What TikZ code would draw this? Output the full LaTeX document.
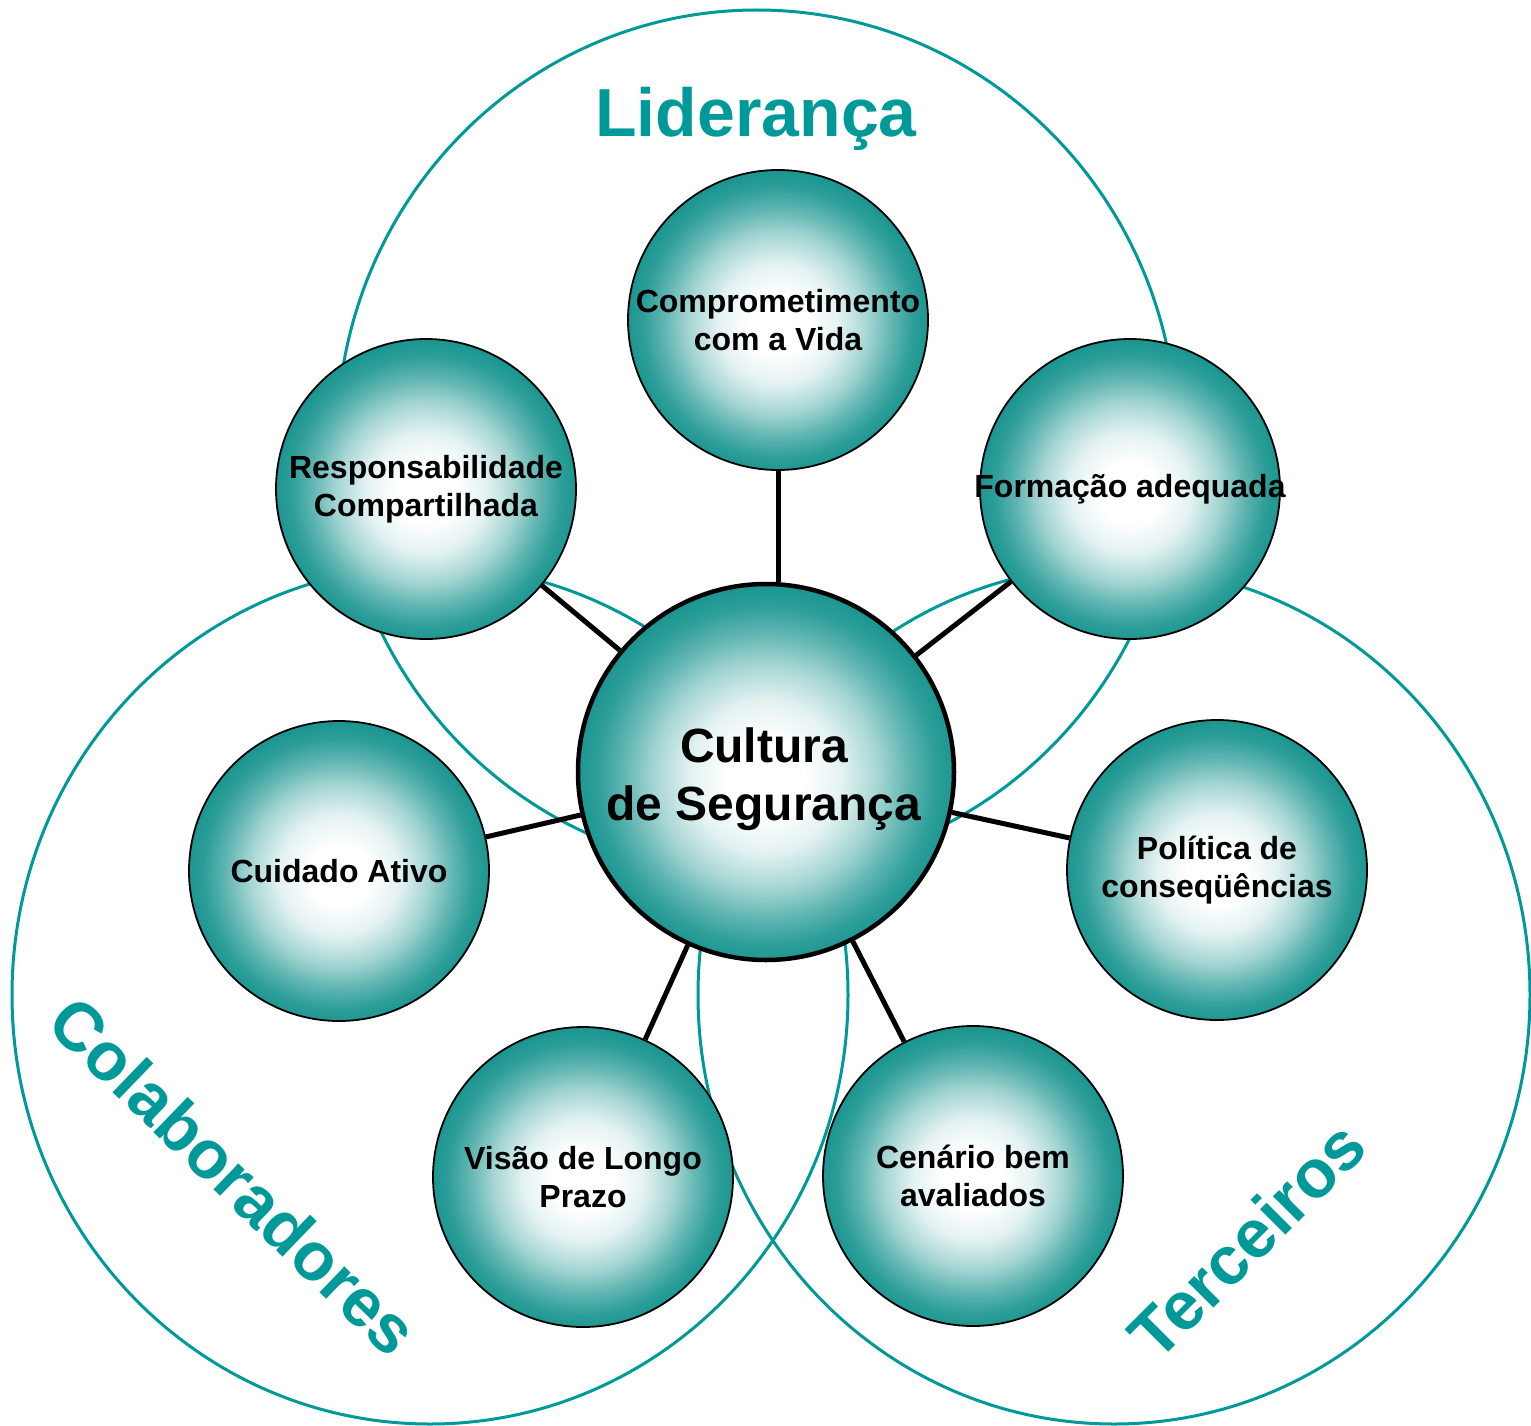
\documentclass[tikz,border=0pt]{standalone}
\usepackage{fontspec}
\setmainfont{Liberation Sans}
\definecolor{tealline}{RGB}{0,153,153}
\definecolor{shteal}{RGB}{28,150,145}
\pgfdeclareradialshading{tealball}{\pgfpoint{0bp}{-0.8bp}}{%
  color(0bp)=(white); color(5bp)=(white); color(10bp)=(shteal!12!white);
  color(15bp)=(shteal!40!white); color(19bp)=(shteal!70!white);
  color(22.5bp)=(shteal!92!white); color(25bp)=(shteal); color(50bp)=(shteal)}
\tikzset{
  venn/.style={draw=tealline, line width=3pt},
  ball/.style={circle, shade, shading=tealball, draw=black, line width=1.8pt,
    minimum size=300pt, inner sep=0pt},
  core/.style={circle, shade, shading=tealball, draw=black, line width=4.5pt,
    minimum size=376pt, inner sep=0pt},
  conn/.style={draw=black, line width=5pt},
  btxt/.style={font=\fontsize{32}{38}\selectfont\bfseries, align=center, text=black, inner sep=0pt},
  ctxt/.style={font=\fontsize{48}{58}\selectfont\bfseries, align=center, text=black, inner sep=0pt},
  grouptxt/.style={font=\fontsize{68}{80}\selectfont\bfseries, text=tealline, inner sep=0pt}
}
\begin{document}
\begin{tikzpicture}[x=1pt,y=-1pt]
\useasboundingbox (0,0) rectangle (1531,1426);
% group circles
\draw[venn] (757,440) ellipse (420 and 430);
\draw[venn] (430,995) ellipse (418 and 429);
\draw[venn] (1114,995) ellipse (416 and 429);
% group titles
\node[grouptxt] (lid) at (756,119) {Liderança};
\node[grouptxt, rotate=-44] (col) at (234,1176) {Colaboradores};
\node[grouptxt, rotate=45] (ter) at (1247,1240) {Terceiros};
% circles
\node[core, label={[ctxt, yshift=-7pt, xshift=-2pt]center:Cultura\\de Segurança}] (core) at (766,772) {};
\node[ball, label={[btxt]center:Comprometimento\\com a Vida}] (b1) at (778,320) {};
\node[ball, label={[btxt]center:Responsabilidade\\Compartilhada}] (b2) at (426,489) {};
\node[ball, label={[btxt]center:Formação adequada}] (b3) at (1130,489) {};
\node[ball, label={[btxt]center:Cuidado Ativo}] (b4) at (339,871) {};
\node[ball, label={[btxt]center:Política de\\conseqüências}] (b5) at (1217,870) {};
\node[ball, label={[btxt]center:Visão de Longo\\Prazo}] (b6) at (583,1177) {};
\node[ball, label={[btxt]center:Cenário bem\\avaliados}] (b7) at (973,1176) {};
% connectors
\draw[conn] (b1.south) -- (b1.south |- core.north);
\draw[conn] (core) -- (b2);
\draw[conn] (core) -- (b3);
\draw[conn] (core) -- (b4);
\draw[conn] (core) -- (b5);
\draw[conn] (core) -- (b6);
\draw[conn] (core) -- (b7);
\end{tikzpicture}
\end{document}
